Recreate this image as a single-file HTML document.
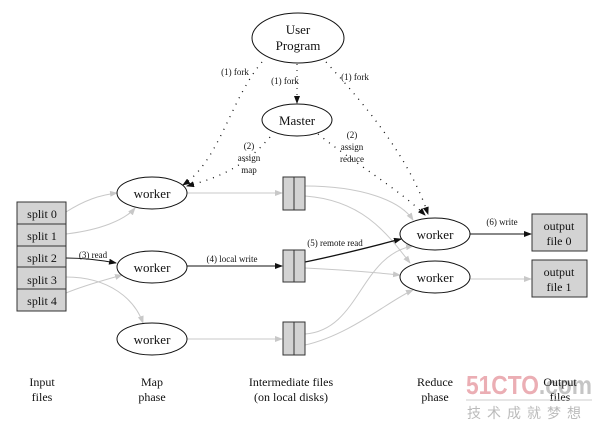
<!DOCTYPE html>
<html><head><meta charset="utf-8"><style>
html,body{margin:0;padding:0;background:#fff;}
svg{display:block;}
text{font-family:"Liberation Serif",serif;fill:#111;}
</style></head><body>
<svg width="600" height="429" viewBox="0 0 600 429" xmlns="http://www.w3.org/2000/svg">
<defs>
<marker id="ab" markerWidth="8" markerHeight="6" refX="7" refY="3" orient="auto" markerUnits="userSpaceOnUse"><path d="M0,0L8,3L0,6z" fill="#111"/></marker>
<marker id="ag" markerWidth="8" markerHeight="6" refX="7" refY="3" orient="auto" markerUnits="userSpaceOnUse"><path d="M0,0L8,3L0,6z" fill="#c8c8c8"/></marker>
</defs>
<g fill="none" stroke="#c8c8c8" stroke-width="1">
<path d="M66,212 C85,200 100,195 117,193" marker-end="url(#ag)"/>
<path d="M66,234 C100,230 125,220 135,208" marker-end="url(#ag)"/>
<path d="M66,293 C85,285 105,280 122,275" marker-end="url(#ag)"/>
<path d="M66,277 C110,277 135,300 143,323" marker-end="url(#ag)"/>
<path d="M187,193 L282,193" marker-end="url(#ag)"/>
<path d="M187,339 L282,339" marker-end="url(#ag)"/>
<path d="M305,186 C360,186 400,200 413,220" marker-end="url(#ag)"/>
<path d="M305,196 C360,200 385,230 410,263" marker-end="url(#ag)"/>
<path d="M305,268 C350,270 380,273 400,275" marker-end="url(#ag)"/>
<path d="M305,334 C360,330 360,255 413,246" marker-end="url(#ag)"/>
<path d="M305,345 C350,335 390,300 413,290" marker-end="url(#ag)"/>
<path d="M470,279 L531,279" marker-end="url(#ag)"/>
</g>
<g fill="none" stroke="#111" stroke-width="1">
<path d="M66,258 C85,258 100,260 116,263" marker-end="url(#ab)"/>
<path d="M187,266 L282,266" marker-end="url(#ab)"/>
<path d="M305,262 C340,255 370,247 401,239" marker-end="url(#ab)" stroke-width="1.3"/>
<path d="M470,234 L531,234" marker-end="url(#ab)"/>
<path d="M297,64 L297,103" marker-end="url(#ab)" stroke-dasharray="1,5"/>
</g>
<g fill="none" stroke="#111" stroke-width="1.3" stroke-dasharray="1,6">
<path d="M262,62 C230,100 220,160 183,185" marker-end="url(#ab)"/>
<path d="M270,137 C250,160 230,175 187,186" marker-end="url(#ab)"/>
<path d="M326,62 C370,110 410,160 428,214" marker-end="url(#ab)"/>
<path d="M318,134 C350,160 400,190 425,215" marker-end="url(#ab)"/>
</g>
<g fill="#fff" stroke="#111" stroke-width="1">
<ellipse cx="298" cy="38" rx="46" ry="25"/>
<ellipse cx="297" cy="120" rx="35" ry="16"/>
<ellipse cx="152" cy="193" rx="35" ry="16"/>
<ellipse cx="152" cy="267" rx="35" ry="16"/>
<ellipse cx="152" cy="339" rx="35" ry="16"/>
<ellipse cx="435" cy="234" rx="35" ry="16"/>
<ellipse cx="435" cy="277" rx="35" ry="16"/>
</g>
<g fill="#d3d3d3" stroke="#333" stroke-width="1">
<rect x="17" y="202" width="49" height="22"/><rect x="17" y="224" width="49" height="22"/>
<rect x="17" y="246" width="49" height="21"/><rect x="17" y="267" width="49" height="22"/>
<rect x="17" y="289" width="49" height="22"/>
<rect x="283" y="177" width="11" height="33"/><rect x="294" y="177" width="11" height="33"/>
<rect x="283" y="250" width="11" height="32"/><rect x="294" y="250" width="11" height="32"/>
<rect x="283" y="322" width="11" height="33"/><rect x="294" y="322" width="11" height="33"/>
<rect x="532" y="214" width="55" height="37"/><rect x="532" y="260" width="55" height="37"/>
</g>
<g font-size="13" text-anchor="middle">
<text x="298" y="34">User</text><text x="298" y="50">Program</text>
<text x="297" y="125">Master</text>
<text x="152" y="198">worker</text><text x="152" y="272">worker</text><text x="152" y="344">worker</text>
<text x="435" y="239">worker</text><text x="435" y="282">worker</text>
<text x="559" y="230" font-size="12">output</text><text x="559" y="245" font-size="12">file 0</text>
<text x="559" y="276" font-size="12">output</text><text x="559" y="291" font-size="12">file 1</text>
</g>
<g font-size="12" text-anchor="middle">
<text x="42" y="218">split 0</text><text x="42" y="240">split 1</text><text x="42" y="262">split 2</text>
<text x="42" y="284">split 3</text><text x="42" y="305">split 4</text>
<text x="42" y="386">Input</text><text x="42" y="401">files</text>
<text x="152" y="386">Map</text><text x="152" y="401">phase</text>
<text x="291" y="386">Intermediate files</text><text x="291" y="401">(on local disks)</text>
<text x="435" y="386">Reduce</text><text x="435" y="401">phase</text>
</g>
<g font-size="9" text-anchor="middle">
<text x="235" y="75">(1) fork</text>
<text x="285" y="84">(1) fork</text>
<text x="355" y="80">(1) fork</text>
<text x="249" y="149">(2)</text><text x="249" y="161">assign</text><text x="249" y="173">map</text>
<text x="352" y="138">(2)</text><text x="352" y="150">assign</text><text x="352" y="162">reduce</text>
<text x="93" y="258">(3) read</text>
<text x="232" y="262">(4) local write</text>
<text x="335" y="246">(5) remote read</text>
<text x="502" y="225">(6) write</text>
</g>
<text x="466" y="394" font-size="26" font-weight="bold" textLength="126" lengthAdjust="spacingAndGlyphs" style="fill:#e8a0a8;font-family:'Liberation Sans',sans-serif" opacity="0.85">51CTO<tspan style="fill:#bbb">.com</tspan></text>
<g font-size="12" text-anchor="middle"><text x="560" y="386">Output</text><text x="560" y="401">files</text></g>
<line x1="466" y1="400" x2="592" y2="400" stroke="#ccc"/>
<text x="467" y="418" font-size="14" style="fill:#bbb;font-family:'Noto Sans CJK SC',sans-serif" letter-spacing="6">技术成就梦想</text>
</svg>
</body></html>
